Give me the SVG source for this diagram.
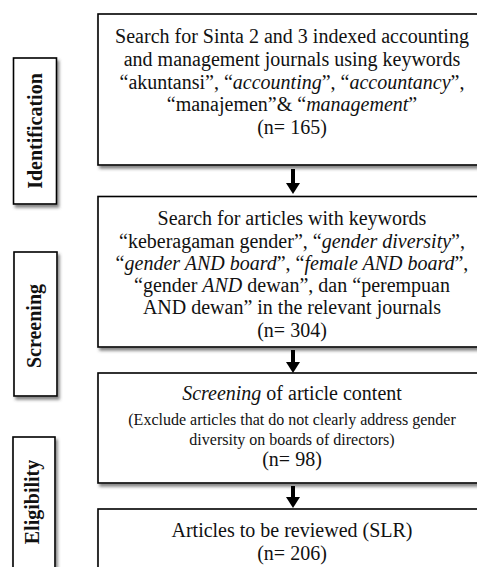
<svg xmlns="http://www.w3.org/2000/svg" width="477" height="567" viewBox="0 0 477 567">
<defs>
<filter id="sh" x="-10%" y="-10%" width="130%" height="130%">
<feDropShadow dx="2" dy="3" stdDeviation="1.8" flood-color="#444" flood-opacity="0.65"/>
</filter>
<marker id="ah" markerUnits="userSpaceOnUse" markerWidth="11" markerHeight="14" refX="0" refY="7" orient="auto" viewBox="0 0 11 14">
<path d="M0,0 L11,7 L0,14 Z" fill="#000"/>
</marker>
</defs>
<style>
.box{fill:#fff;stroke:#000;stroke-width:1.6;filter:url(#sh)}
.t{font-family:"Liberation Serif","Times New Roman",serif;font-size:20px;fill:#111;text-anchor:middle}
.s{font-size:16px}
.lab{font-family:"Liberation Serif","Times New Roman",serif;font-size:20px;font-weight:bold;fill:#111;text-anchor:middle}
.i{font-style:italic}
.con{stroke:#000;stroke-width:4;fill:none;marker-end:url(#ah)}
</style>
<rect width="477" height="567" fill="#fff"/>

<g id="stage-identification">
<rect class="box" x="13.5" y="58" width="43" height="146"/>
<text class="lab" transform="translate(42,131) rotate(-90)">Identification</text>
</g>
<g id="stage-screening">
<rect class="box" x="14" y="252" width="43" height="144"/>
<text class="lab" transform="translate(41,326) rotate(-90)">Screening</text>
</g>
<g id="stage-eligibility">
<rect class="box" x="13" y="437" width="42" height="150"/>
<text class="lab" transform="translate(39,502) rotate(-90)">Eligibility</text>
</g>

<g id="node-search-journals">
<rect class="box" x="98" y="14" width="390" height="151"/>
<text class="t" x="292" y="43">Search for Sinta 2 and 3 indexed accounting</text>
<text class="t" x="292" y="66">and management journals using keywords</text>
<text class="t" x="292" y="89">“akuntansi”, “<tspan class="i">accounting</tspan>”, “<tspan class="i">accountancy</tspan>”,</text>
<text class="t" x="292" y="111">“manajemen”&amp; “<tspan class="i">management</tspan>”</text>
<text class="t" x="292" y="134">(n= 165)</text>
</g>

<g id="node-search-articles">
<rect class="box" x="98" y="196.5" width="390" height="150.5"/>
<text class="t" x="292" y="225">Search for articles with keywords</text>
<text class="t" x="292" y="248">“keberagaman gender”, “<tspan class="i">gender diversity</tspan>”,</text>
<text class="t" x="292" y="270">“<tspan class="i">gender AND board</tspan>”, “<tspan class="i">female AND board</tspan>”,</text>
<text class="t" x="292" y="292">“gender <tspan class="i">AND</tspan> dewan”, dan “perempuan</text>
<text class="t" x="292" y="314">AND dewan” in the relevant journals</text>
<text class="t" x="292" y="337">(n= 304)</text>
</g>

<g id="node-screening">
<rect class="box" x="98" y="373" width="390" height="110"/>
<text class="t" x="292" y="400"><tspan class="i">Screening</tspan> of article content</text>
<text class="t s" x="292" y="425">(Exclude articles that do not clearly address gender</text>
<text class="t s" x="292" y="445">diversity on boards of directors)</text>
<text class="t" x="292" y="466">(n= 98)</text>
</g>

<g id="node-review">
<rect class="box" x="98" y="509" width="390" height="80"/>
<text class="t" x="292" y="537">Articles to be reviewed (SLR)</text>
<text class="t" x="292" y="560">(n= 206)</text>
</g>

<g id="connectors">
<line class="con" x1="293" y1="169" x2="293" y2="183"/>
<line class="con" x1="293" y1="350" x2="293" y2="362"/>
<line class="con" x1="293" y1="486" x2="293" y2="497"/>
</g>
</svg>
